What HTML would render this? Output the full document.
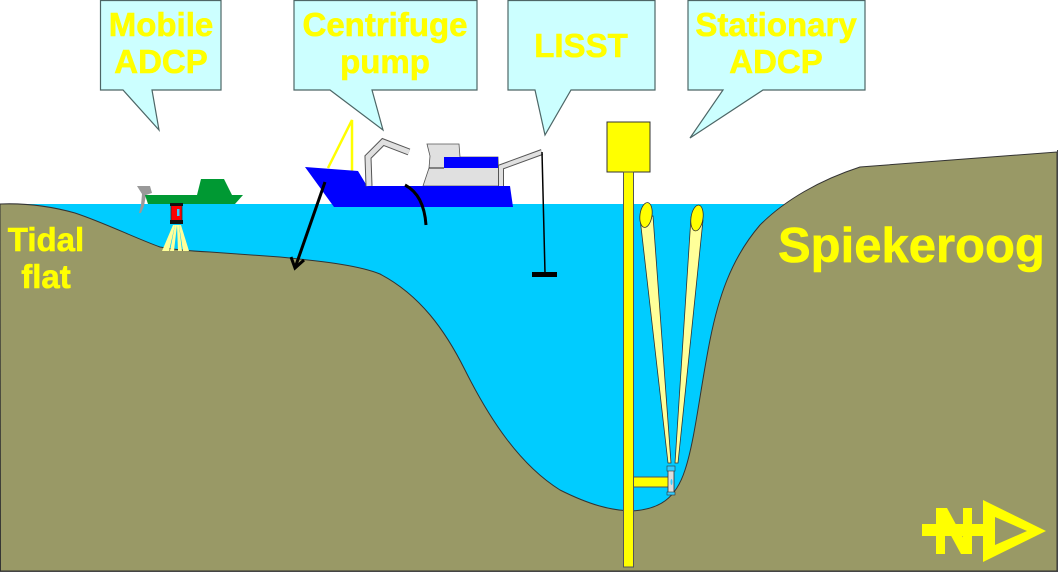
<!DOCTYPE html>
<html><head><meta charset="utf-8"><style>
html,body{margin:0;padding:0;background:#fff;}
svg{display:block;}
text{font-family:"Liberation Sans",Arial,sans-serif;font-weight:bold;fill:#FFFF00;}
</style></head><body>
<svg width="1058" height="572" viewBox="0 0 1058 572" xmlns="http://www.w3.org/2000/svg">
<rect x="0" y="0" width="1058" height="572" fill="#fff"/>
<!-- water -->
<rect x="0" y="204" width="820" height="368" fill="#00CCFF"/>
<!-- land -->
<path d="M0,204 C25,203 50,206 75,213 C105,223 135,238 160,247 C175,250 190,251 210,252 L280,257 C330,262 360,266 380,274 C420,295 445,330 465,370 C490,420 520,465 560,490 C590,505 610,510 630,511 C660,510 676,498 685,470 C695,440 700,390 710,340 C718,300 730,260 760,225 C785,200 820,180 860,167 L1057,152 L1057,571 L0.5,571 Z" fill="#999966" stroke="#333" stroke-width="1"/>

<!-- callouts -->
<g fill="#CCFFFF" stroke="#4d6666" stroke-width="1.2">
<path d="M100.5,0.5 H221 V90 H152 L159,130 L123,90 H100.5 Z"/>
<path d="M294,0.5 H477 V90 H372 L383,130 L330,90 H294 Z"/>
<path d="M508,0.5 H655 V90 H571 L545,135 L535,90 H508 Z"/>
<path d="M688,0.5 H865 V90 H763 L690,138 L723,90 H688 Z"/>
</g>
<g font-size="33" font-weight="bold" text-anchor="middle" stroke="#FFFF00" stroke-width="0.6">
<text x="161" y="36">Mobile</text>
<text x="161" y="73">ADCP</text>
<text x="385" y="36">Centrifuge</text>
<text x="385" y="73">pump</text>
<text x="581" y="57">LISST</text>
<text x="776" y="36">Stationary</text>
<text x="776" y="73">ADCP</text>
<text x="46" y="251">Tidal</text>
<text x="46" y="288">flat</text>
</g>
<text x="778" y="262" font-size="49" font-weight="bold" stroke="#FFFF00" stroke-width="0.6">Spiekeroog</text>

<!-- green boat -->
<polygon points="137,186 150,186 152,193 146,195 144,206 141,213 139,213 141,205 142,194" fill="#999999"/>
<polygon points="145,195 197,195 201,179 224,179 232,195 243,195 235,204 148,204" fill="#009933"/>
<!-- mobile ADCP beams -->
<g fill="#FFFF99">
<polygon points="173,225 162,251 169,251 175,225"/>
<polygon points="175,225 170,251 174,251 177,225"/>
<polygon points="177,225 178,251 182,251 179,225"/>
<polygon points="179,225 183,251 189,251 181,225"/>
</g>
<rect x="171" y="204" width="11" height="19" fill="#FF0000" stroke="#333" stroke-width="0.8"/>
<rect x="170" y="203" width="13" height="3" fill="#111"/>
<rect x="170" y="220" width="13" height="4" fill="#111"/>
<rect x="177" y="209" width="2.5" height="7" fill="#33ccff"/>

<!-- blue ship -->
<polyline points="328,168 352,120 352,171" fill="none" stroke="#FFFF00" stroke-width="2.5"/>
<polygon points="427,144 459,144 460,157 498,157 499,186 423,186 429,168 430,156" fill="#E0E0E0" stroke="#555" stroke-width="0.8"/>
<rect x="444" y="157" width="54" height="11" fill="#0000FF"/>
<line x1="429" y1="168" x2="444" y2="168" stroke="#222" stroke-width="1"/>
<polygon points="305,167 358,171 367,186 510,186 513,207 334,207" fill="#0000FF"/>
<!-- cranes -->
<polyline points="369,186 368,157 383,142 409,152" fill="none" stroke="#555" stroke-width="7" stroke-linejoin="miter"/>
<polyline points="369,186 368,157 383,142 409,152" fill="none" stroke="#E0E0E0" stroke-width="5" stroke-linejoin="miter"/>
<polyline points="501,186 501,167 542,152" fill="none" stroke="#555" stroke-width="6"/>
<polyline points="501,186 501,167 542,152" fill="none" stroke="#E0E0E0" stroke-width="4"/>
<!-- hose -->
<path d="M405,185 Q424,195 426,225" fill="none" stroke="#000" stroke-width="3"/>
<!-- LISST line -->
<line x1="542" y1="152" x2="545" y2="273" stroke="#000" stroke-width="1.5"/>
<rect x="532" y="272" width="25" height="5" fill="#000"/>
<!-- arrow -->
<line x1="325" y1="182" x2="295" y2="268" stroke="#000" stroke-width="3"/>
<polyline points="291,257 295,268 304,260" fill="none" stroke="#000" stroke-width="3"/>

<!-- stationary ADCP -->
<polygon points="668,463 671,463 653,216 640,218" fill="#FFFF99" stroke="#333" stroke-width="0.8"/>
<polygon points="675,463 678,463 703,220 691,217" fill="#FFFF99" stroke="#333" stroke-width="0.8"/>
<ellipse cx="646" cy="215" rx="6" ry="12.5" transform="rotate(8 646 215)" fill="#FFFF00" stroke="#333" stroke-width="0.8"/>
<ellipse cx="697" cy="218" rx="6" ry="13" transform="rotate(8 697 218)" fill="#FFFF00" stroke="#333" stroke-width="0.8"/>
<rect x="607" y="122" width="43" height="50" fill="#FFFF00" stroke="#333" stroke-width="1"/>
<rect x="623.5" y="172" width="10" height="395" fill="#FFFF00" stroke="#555" stroke-width="1"/>
<rect x="633.5" y="477" width="35" height="10" fill="#FFFF00" stroke="#555" stroke-width="1"/>
<rect x="668" y="470" width="6" height="23" fill="#DDDDDD" stroke="#333" stroke-width="0.8"/>
<rect x="667" y="466" width="8" height="5" fill="#33ccff" stroke="#333" stroke-width="0.6"/>
<rect x="667" y="492" width="8" height="3" fill="#33ccff" stroke="#333" stroke-width="0.6"/>
<ellipse cx="671.5" cy="482" rx="1" ry="3" fill="#33ccff"/>

<!-- north symbol -->
<g fill="#FFFF00">
<rect x="922" y="524" width="63" height="12"/>
<rect x="936" y="508" width="9" height="46"/>
<rect x="963" y="508" width="9" height="46"/>
<polygon points="936,508 947,508 972,554 961,554"/>
<path d="M983,500 L1046,531 L983,562 Z M995,517 L995,545 L1027,531 Z" fill-rule="evenodd"/>
</g>
<!-- frame edges -->
<line x1="1057.5" y1="150" x2="1057.5" y2="572" stroke="#444" stroke-width="1"/>
<line x1="0" y1="571.5" x2="1058" y2="571.5" stroke="#444" stroke-width="1"/>
</svg>
</body></html>
